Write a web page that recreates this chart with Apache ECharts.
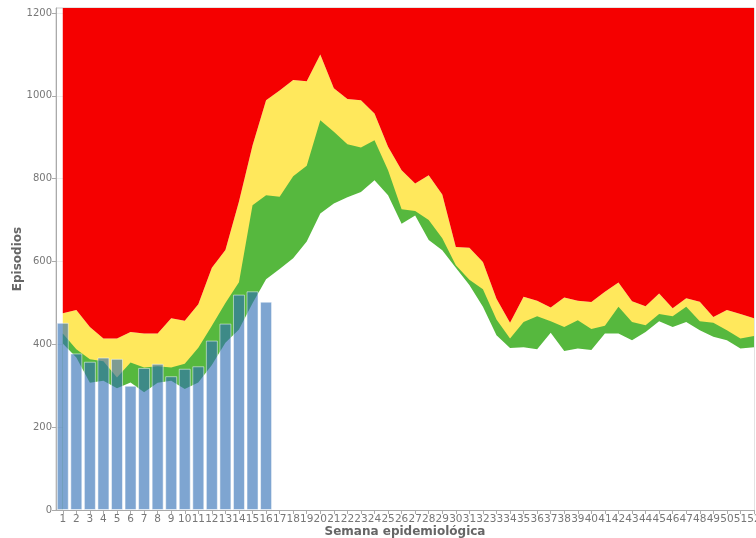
<!DOCTYPE html>
<html>
<head>
<meta charset="utf-8">
<script src="https://cdn.jsdelivr.net/npm/echarts@6/dist/echarts.min.js"></script>
<style>
  html, body { margin: 0; padding: 0; background: #fff; }
  #chart { width: 756px; height: 538px; }
</style>
</head>
<body>
<div id="chart"></div>
<script>
// semanas epidemiológicas
const semanas = [];
for (let i = 1; i <= 52; i++) semanas.push(i);

const yTicks = [0, 200, 400, 600, 800, 1000, 1200];

// límites del canal endémico
const zonaExito = [402, 368, 307, 312, 294, 308, 284, 307, 312, 292, 308, 350, 404, 436, 499, 557,
  582, 608, 648, 716, 740, 755, 768, 796, 760, 691, 711, 652, 627, 585, 543, 491, 422, 391, 393, 388,
  428, 384, 390, 386, 426, 426, 410, 430, 456, 442, 454, 434, 418, 410, 390, 393];
const zonaSeguridad = [426, 388, 364, 359, 320, 356, 344, 347, 344, 353, 392, 445, 500, 550, 736, 760,
  756, 806, 831, 941, 913, 883, 875, 893, 820, 726, 722, 700, 656, 591, 556, 533, 460, 414, 454, 468,
  456, 442, 458, 437, 445, 491, 454, 446, 473, 468, 491, 456, 452, 434, 414, 420];
const zonaAlerta = [475, 483, 442, 414, 414, 430, 426, 426, 463, 457, 497, 585, 628, 745, 880, 989,
  1013, 1038, 1035, 1100, 1018, 992, 989, 957, 877, 820, 788, 808, 762, 635, 633, 599, 510, 452, 515, 505,
  489, 513, 505, 502, 527, 549, 504, 492, 523, 487, 511, 503, 466, 483, 473, 463];

// casos del año en curso
const casos = [452, 378, 358, 368, 365, 300, 343, 353, 323, 341, 347, 409, 450, 520, 528, 503];

const pares = arr => arr.map((v, i) => [semanas[i], v]);

function area(name, data, color, origin) {
  return {
    name: name,
    type: 'line',
    data: pares(data),
    symbol: 'none',
    lineStyle: { width: 0 },
    areaStyle: { color: color, opacity: 1, origin: origin },
    silent: true
  };
}

const chart = echarts.init(document.getElementById('chart'));
const option = {
  animation: false,
  textStyle: { fontFamily: 'DejaVu Sans' },
  grid: [{
    left: 56, top: 8, width: 698, height: 502,
    outerBoundsMode: 'none', containLabel: false,
    show: true, borderColor: '#c8c8c8', borderWidth: 1, backgroundColor: 'transparent'
  }, {
    // misma escala, una banda por semana (0.5 .. 52.5)
    left: 56, top: 8, width: 698 * 52 / 51.5, height: 502,
    outerBoundsMode: 'none', containLabel: false
  }],
  xAxis: [{
    type: 'value',
    gridIndex: 0,
    min: 0.5,
    max: 52,
    name: 'Semana epidemiológica',
    nameLocation: 'middle',
    nameGap: 16,
    nameMoveOverlap: false,
    nameTextStyle: { fontSize: 12, fontWeight: 'bold', color: '#666', verticalAlign: 'top' },
    axisLine: { show: true, lineStyle: { color: '#aaa' } },
    axisTick: { show: true, length: 4, lineStyle: { color: '#aaa' }, customValues: semanas },
    axisLabel: { customValues: semanas, fontSize: 10.5, color: '#777', margin: 4 },
    splitLine: { show: false }
  }, {
    type: 'category',
    gridIndex: 1,
    data: semanas,
    boundaryGap: true,
    show: false
  }],
  yAxis: [{
    type: 'value',
    gridIndex: 0,
    min: 0,
    max: 1212,
    name: 'Episodios',
    nameLocation: 'middle',
    nameGap: 32,
    nameMoveOverlap: false,
    nameTextStyle: { fontSize: 12, fontWeight: 'bold', color: '#666' },
    axisLine: { show: true, lineStyle: { color: '#aaa' } },
    axisTick: { show: true, length: 4, lineStyle: { color: '#aaa' }, customValues: yTicks },
    axisLabel: { customValues: yTicks, fontSize: 10, color: '#777', margin: 4, formatter: v => String(v) },
    splitLine: { show: true, lineStyle: { color: '#eee' } }
  }, {
    type: 'value',
    gridIndex: 1,
    min: 0,
    max: 1212,
    show: false
  }],
  series: [
    area('Alerta', zonaAlerta, '#ffe85c', 'start'),
    area('Seguridad', zonaSeguridad, '#56b83e', 'start'),
    area('Éxito', zonaExito, '#ffffff', 'start'),
    area('Epidemia', zonaAlerta, '#f50000', 'end'),
    {
      name: 'Casos',
      type: 'bar',
      xAxisIndex: 1,
      yAxisIndex: 1,
      data: casos,
      barWidth: 12,
      z: 5,
      itemStyle: {
        color: 'rgba(46,110,180,0.62)',
        borderColor: 'rgba(255,255,255,0.5)',
        borderWidth: 1
      }
    }
  ]
};
chart.setOption(option);
</script>
</body>
</html>
